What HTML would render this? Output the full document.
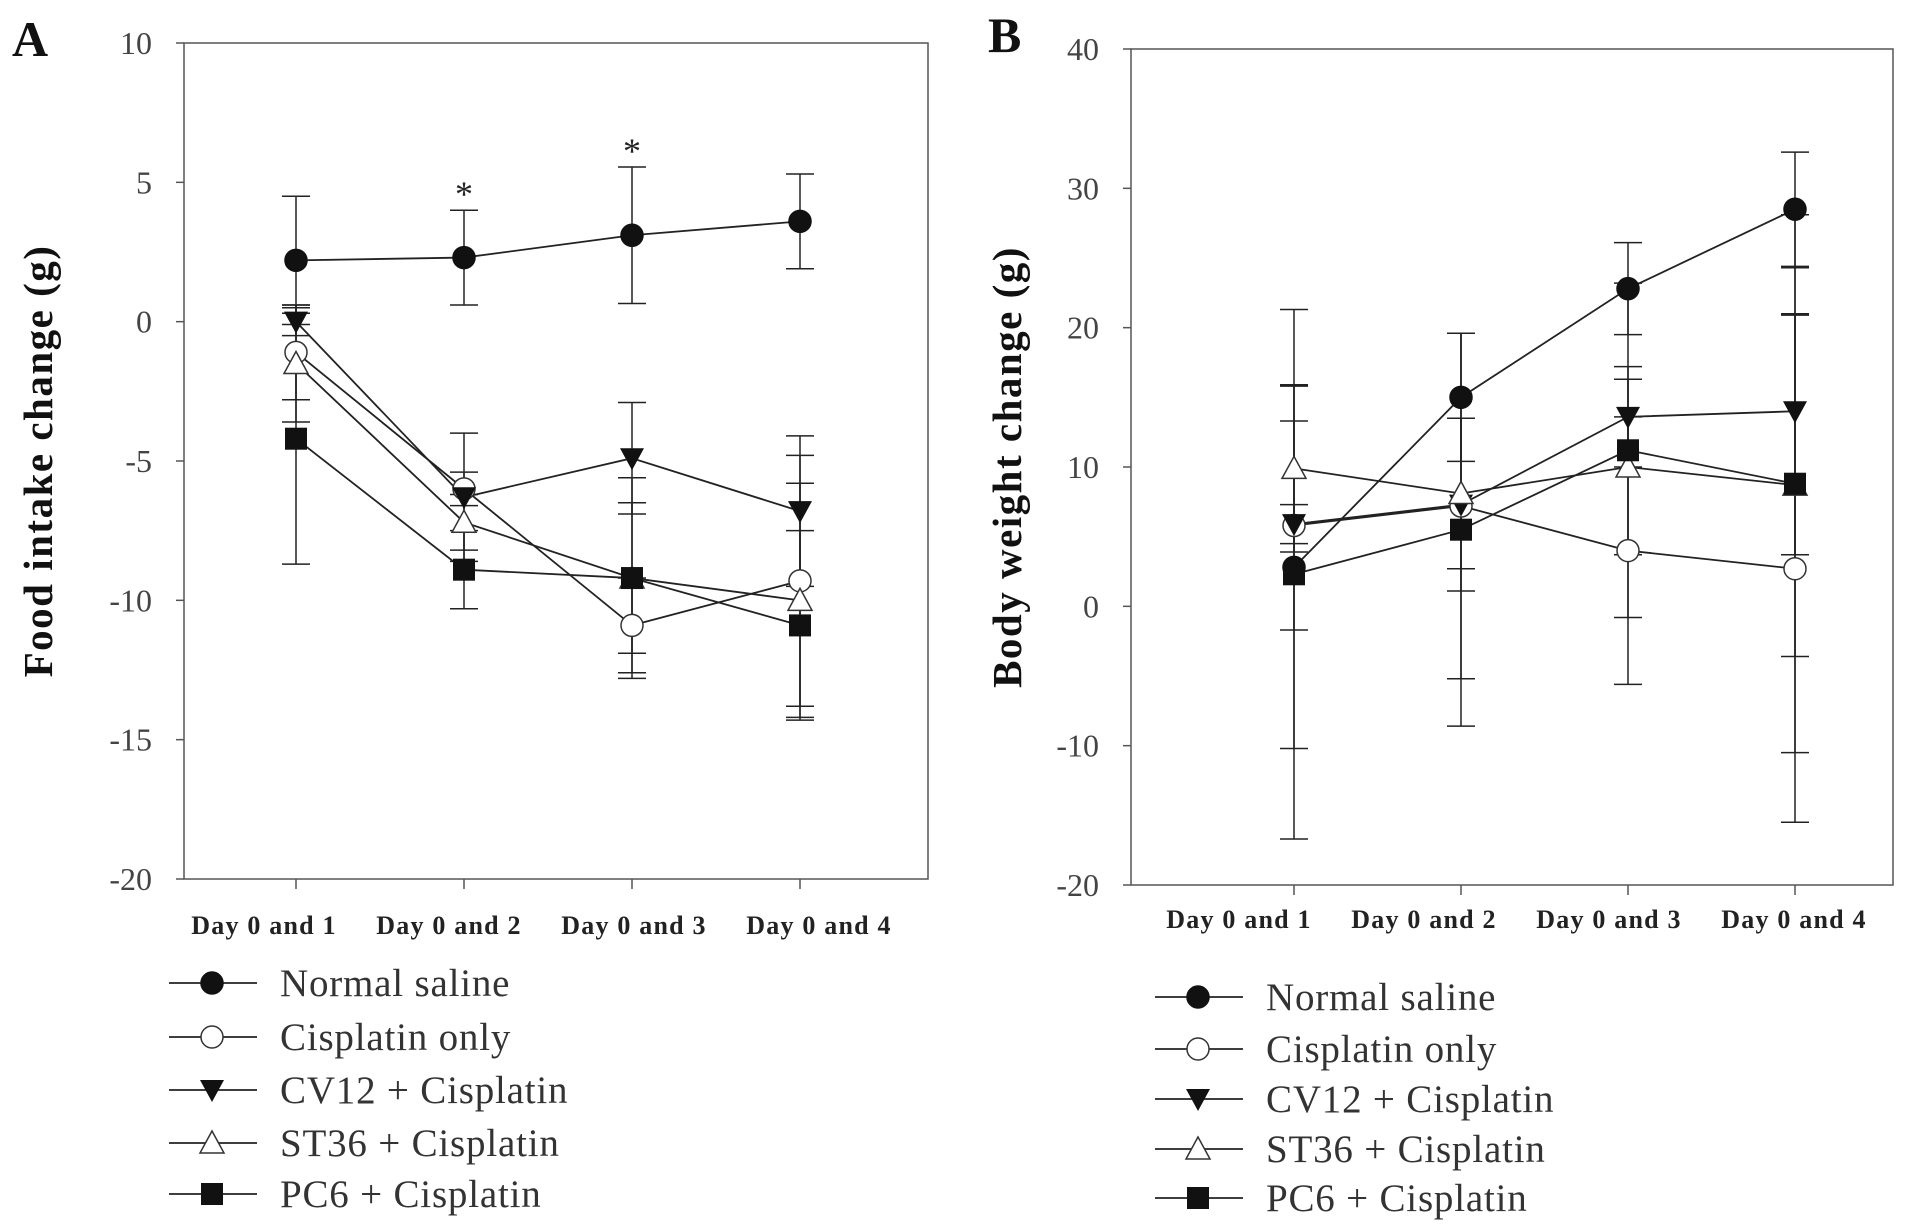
<!DOCTYPE html>
<html><head><meta charset="utf-8"><style>
html,body{margin:0;padding:0;background:#fff;}
svg{display:block;}
text{font-family:"Liberation Serif",serif;}
</style></head><body>
<svg id="fig" width="1913" height="1226" viewBox="0 0 1913 1226"></svg>
<script>
const categories = ["Day 0 and 1","Day 0 and 2","Day 0 and 3","Day 0 and 4"];
const seriesNames = ["Normal saline","Cisplatin only","CV12 + Cisplatin","ST36 + Cisplatin","PC6 + Cisplatin"];
const seriesMarkers = ["circle-filled","circle-open","tri-down","tri-up-open","square"];
// Panel A: food intake change
const aNormal = [2.2, 2.3, 3.1, 3.6];
const aNormalErr = [2.3, 1.7, 2.45, 1.7];
const aCis = [-1.1, -6.0, -10.9, -9.3];
const aCisErr = [1.7, 0.6, 1.7, 4.5];
const aCV12 = [0.0, -6.3, -4.9, -6.8];
const aCV12Err = [0.5, 2.3, 2.0, 2.7];
const aST36 = [-1.5, -7.2, -9.2, -10.0];
const aST36Err = [2.1, 1.0, 2.7, 4.2];
const aPC6 = [-4.2, -8.9, -9.2, -10.9];
const aPC6Err = [4.5, 1.4, 3.6, 3.4];
const aTicks = [10, 5, 0, -5, -10, -15, -20];
const aStars = [1, 2];
// Panel B: body weight change
const bNormal = [2.8, 15.0, 22.8, 28.5];
const bNormalErr = [13.0, 4.6, 3.3, 4.1];
const bCis = [5.8, 7.2, 4.0, 2.7];
const bCisErr = [7.5, 12.4, 9.6, 18.2];
const bCV12 = [5.9, 7.3, 13.6, 14.0];
const bCV12Err = [1.4, 6.2, 3.6, 10.3];
const bST36 = [9.9, 8.1, 10.0, 8.7];
const bST36Err = [6.0, 5.4, 6.3, 12.3];
const bPC6 = [2.3, 5.5, 11.2, 8.8];
const bPC6Err = [19.0, 14.1, 12.0, 19.3];
const bTicks = [40, 30, 20, 10, 0, -10, -20];

const NS = "http://www.w3.org/2000/svg";
const svg = document.getElementById("fig");
function el(tag, attrs, parent, txt){
  const e = document.createElementNS(NS, tag);
  for (const k in attrs) e.setAttribute(k, attrs[k]);
  if (txt !== undefined) e.textContent = txt;
  (parent||svg).appendChild(e);
  return e;
}
function marker(g, type, x, y){
  let m;
  const c = "#111";
  if (type === "circle-filled") m = el("circle",{cx:x,cy:y,r:11,fill:c,stroke:c,"stroke-width":1.5},g);
  else if (type === "circle-open") m = el("circle",{cx:x,cy:y,r:11,fill:"#fff",stroke:"#333","stroke-width":1.5},g);
  else if (type === "tri-down") m = el("polygon",{points:`${x-12},${y-10} ${x+12},${y-10} ${x},${y+12}`,fill:c},g);
  else if (type === "tri-up-open") m = el("polygon",{points:`${x-12},${y+10} ${x+12},${y+10} ${x},${y-12}`,fill:"#fff",stroke:"#333","stroke-width":1.5},g);
  else m = el("rect",{x:x-11,y:y-11,width:22,height:22,fill:c},g);
  return m;
}
function panel(cfg){
  const {left,right,top,bottom,ymin,ymax,xs,ticks,series,errs,ytitle,ytx,letter,lx,ly,legX,legRows,id,stars,xlOff,lblStart,lblStep} = cfg;
  const g = el("g",{});
  
  
  const yS = v => top + (ymax - v)/(ymax - ymin)*(bottom - top);
  const xS = i => xs[0] + i*(xs[1]-xs[0]);
  const box = el("rect",{x:left,y:top,width:right-left,height:bottom-top,fill:"none",stroke:"#555","stroke-width":1.5},g);
  
  
  ticks.forEach(t=>{
    const y = yS(t);
    el("line",{x1:left-8,y1:y,x2:left,y2:y,stroke:"#555","stroke-width":1.5},g);
    const tl = el("text",{x:left-32,y:y+11,"text-anchor":"end","font-size":32,fill:"#444"},g,String(t));
    
    
  });
  categories.forEach((c,i)=>{
    const x = xS(i);
    el("line",{x1:x,y1:bottom,x2:x,y2:bottom+10,stroke:"#555","stroke-width":1.5},g);
    const xl = el("text",{x:lblStart+i*lblStep,y:bottom+xlOff,"text-anchor":"middle","font-size":26,"font-weight":"bold",fill:"#222","letter-spacing":"1.2"},g,c);
    
    
  });
  const yt = el("text",{x:0,y:0,transform:`translate(${ytx},${(top+bottom)/2}) rotate(-90)`,"text-anchor":"middle","font-size":41,"font-weight":"bold",fill:"#111","letter-spacing":"1.5"},g,ytitle);
  
  
  const L = el("text",{x:lx,y:ly,"font-size":50,"font-weight":"bold",fill:"#111"},g,letter);
  
  
  series.forEach((s,si)=>{
    s.forEach((v,i)=>{
      const x = xS(i), e = errs[si][i];
      const y1 = yS(v+e), y2 = yS(v-e);
      el("line",{x1:x,y1:y1,x2:x,y2:y2,stroke:"#222","stroke-width":1.5},g);
      el("line",{x1:x-14,y1:y1,x2:x+14,y2:y1,stroke:"#222","stroke-width":1.5},g);
      el("line",{x1:x-14,y1:y2,x2:x+14,y2:y2,stroke:"#222","stroke-width":1.5},g);
    });
  });
  series.forEach((s,si)=>{
    const pl = el("polyline",{points:s.map((v,i)=>`${xS(i)},${yS(v)}`).join(" "),fill:"none",stroke:"#222","stroke-width":1.8},g);
    
    
  });
  series.forEach((s,si)=>{
    s.forEach((v,i)=>{
      const m = marker(g, seriesMarkers[si], xS(i), yS(v));
      
      
    });
  });
  if (stars) stars.forEach(i=>{
    const hi = series[0][i] + errs[0][i];
    const st = el("text",{x:xS(i),y:yS(hi)-4,"text-anchor":"middle","font-size":36,fill:"#222"},g,"*");
    
    
  });
  seriesNames.forEach((n,si)=>{
    const y = legRows[si];
    const lg = el("g",{},g);
    
    
    el("line",{x1:legX,y1:y,x2:legX+88,y2:y,stroke:"#222","stroke-width":1.8},lg);
    marker(lg, seriesMarkers[si], legX+43, y);
    el("text",{x:legX+111,y:y+13,"font-size":39,fill:"#333","letter-spacing":"0.8"},lg,n);
  });
}
panel({id:"food",left:184,right:928,top:43,bottom:879,ymin:-20,ymax:10,xs:[296,464],ticks:aTicks,
  series:[aNormal,aCis,aCV12,aST36,aPC6],errs:[aNormalErr,aCisErr,aCV12Err,aST36Err,aPC6Err],
  ytitle:"Food intake change (g)",ytx:52,letter:"A",lx:12,ly:56,legX:169,legRows:[983,1037,1090,1143,1194],stars:aStars,xlOff:55,lblStart:264,lblStep:185});
panel({id:"weight",left:1131,right:1893,top:49,bottom:885,ymin:-20,ymax:40,xs:[1294,1461],ticks:bTicks,
  series:[bNormal,bCis,bCV12,bST36,bPC6],errs:[bNormalErr,bCisErr,bCV12Err,bST36Err,bPC6Err],
  ytitle:"Body weight change (g)",ytx:1021,letter:"B",lx:988,ly:52,legX:1155,legRows:[997,1049,1099,1149,1198],stars:null,xlOff:43,lblStart:1239,lblStep:185});
</script>
</body></html>
